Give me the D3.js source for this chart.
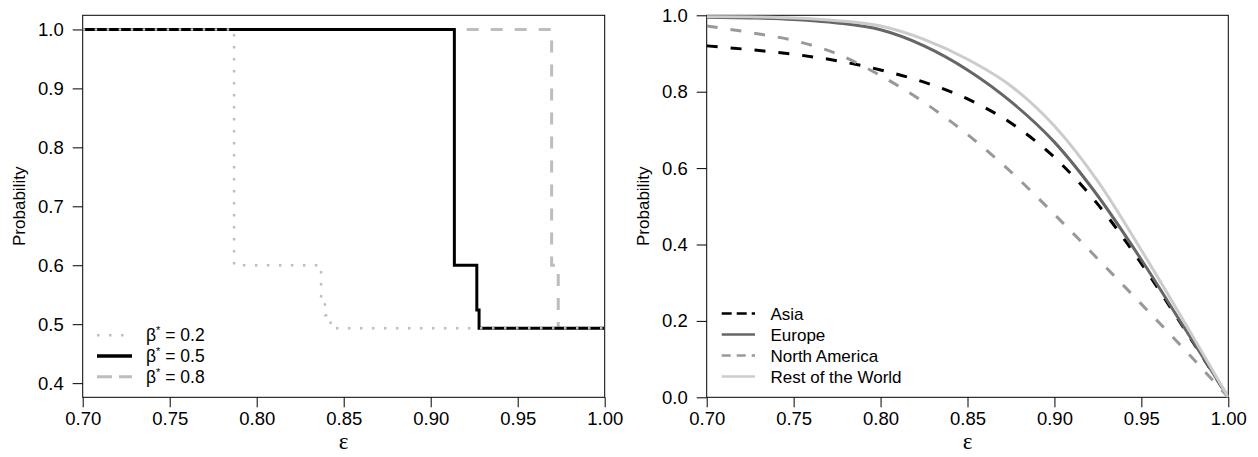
<!DOCTYPE html>
<html>
<head>
<meta charset="utf-8">
<script src="https://cdn.jsdelivr.net/npm/d3@7"></script>
<style>
  html, body { margin: 0; padding: 0; background: #fff; }
  svg { display: block; }
  text { font-family: "Liberation Sans", Arial, sans-serif; fill: #000; }
</style>
</head>
<body>
<script>
// ---------- data ----------
// Left panel: step functions (epsilon where a step starts, probability after it)
const beta02Eps  = [0.70, 0.787, 0.837, 0.8392, 0.8425, 1.00];
const beta02Prob = [1.00, 0.600, 0.540, 0.515, 0.4932, 0.4932];
const beta05Eps  = [0.70, 0.9136, 0.9265, 0.9278, 1.00];
const beta05Prob = [1.00, 0.600, 0.524, 0.4932, 0.4932];
const beta08Eps  = [0.70, 0.9695, 0.9733, 1.00];
const beta08Prob = [1.00, 0.600, 0.4932, 0.4932];
const leftLegendLabels = ["0.2", "0.5", "0.8"];

// Right panel: smooth curves
const epsGrid      = [0.70, 0.725, 0.75, 0.775, 0.80, 0.825, 0.85, 0.875, 0.90, 0.925, 0.95, 0.975, 1.00];
const asia         = [0.920, 0.910, 0.898, 0.881, 0.857, 0.825, 0.781, 0.718, 0.628, 0.505, 0.350, 0.177, 0.0];
const europe       = [0.995, 0.993, 0.989, 0.980, 0.962, 0.920, 0.857, 0.774, 0.668, 0.527, 0.360, 0.180, 0.0];
const northAmerica = [0.972, 0.955, 0.934, 0.899, 0.842, 0.772, 0.688, 0.590, 0.479, 0.362, 0.244, 0.124, 0.0];
const restOfWorld  = [0.997, 0.996, 0.993, 0.986, 0.972, 0.937, 0.885, 0.815, 0.710, 0.565, 0.385, 0.195, 0.0];
const regionNames  = ["Asia", "Europe", "North America", "Rest of the World"];

// Ticks
const xTicks      = [0.70, 0.75, 0.80, 0.85, 0.90, 0.95, 1.00];
const yTicksLeft  = [0.4, 0.5, 0.6, 0.7, 0.8, 0.9, 1.0];
const yTicksRight = [0.0, 0.2, 0.4, 0.6, 0.8, 1.0];

// ---------- layout ----------
const W = 1258, H = 457;
const svg = d3.select("body").append("svg").attr("width", W).attr("height", H);

const plotTop = 15.3, plotBottom = 397.3;
const leftPanel  = { x0: 82.7,  x1: 604.7 };
const rightPanel = { x0: 706.7, x1: 1228.3 };
const tickFont = "18.5px";

function panel(p, yDomain, yTicks, id) {
  const x = d3.scaleLinear().domain([0.70, 1.00]).range([p.x0, p.x1]);
  const y = d3.scaleLinear().domain(yDomain).range([plotBottom, plotTop]);
  const g = svg.append("g");

  svg.append("clipPath").attr("id", id)
    .append("rect").attr("x", p.x0).attr("y", plotTop)
    .attr("width", p.x1 - p.x0).attr("height", plotBottom - plotTop);

  const xAxis = d3.axisBottom(x).tickValues(xTicks).tickFormat(d3.format(".2f"))
    .tickSizeInner(10).tickSizeOuter(0).tickPadding(5);
  const gx = g.append("g").attr("transform", `translate(0,${plotBottom})`).call(xAxis);
  gx.select(".domain").remove();
  gx.selectAll("line").attr("stroke", "#000");
  gx.selectAll("text").style("font-size", tickFont).attr("fill", "#000");

  const yAxis = d3.axisLeft(y).tickValues(yTicks).tickFormat(d3.format(".1f"))
    .tickSizeInner(10).tickSizeOuter(0).tickPadding(9);
  const gy = g.append("g").attr("transform", `translate(${p.x0},0)`).call(yAxis);
  gy.select(".domain").remove();
  gy.selectAll("line").attr("stroke", "#000");
  gy.selectAll("text").style("font-size", tickFont).attr("fill", "#000");

  g.append("rect").attr("x", p.x0).attr("y", plotTop)
    .attr("width", p.x1 - p.x0).attr("height", plotBottom - plotTop)
    .attr("fill", "none").attr("stroke", "#000").attr("stroke-width", 1);

  g.append("text")
    .attr("transform", `translate(${p.x0 - 57.5},${(plotTop + plotBottom) / 2}) rotate(-90)`)
    .attr("text-anchor", "middle").style("font-size", "17px").text("Probability");

  g.append("text")
    .attr("x", (p.x0 + p.x1) / 2).attr("y", 449)
    .attr("text-anchor", "middle")
    .style("font-family", "'Liberation Serif', 'DejaVu Serif', serif")
    .style("font-size", "23px").text("ε");

  const plot = svg.append("g").attr("clip-path", `url(#${id})`);
  return { x, y, plot };
}

// ---------- left panel ----------
const L = panel(leftPanel, [0.376, 1.024], yTicksLeft, "clipL");
const stepLine = d3.line().x(d => L.x(d[0])).y(d => L.y(d[1])).curve(d3.curveStepAfter);

const leftSeries = [
  { eps: beta08Eps, prob: beta08Prob, color: "#bdbdbd", dash: "12 12", w: 3 },
  { eps: beta05Eps, prob: beta05Prob, color: "#000000", dash: null,    w: 3 },
  { eps: beta02Eps, prob: beta02Prob, color: "#bdbdbd", dash: "2.5 9.5", w: 2.5 }
];
leftSeries.forEach(s => {
  const pts = s.eps.map((e, i) => [e, s.prob[i]]);
  L.plot.append("path").attr("d", stepLine(pts))
    .attr("fill", "none").attr("stroke", s.color).attr("stroke-width", s.w)
    .attr("stroke-dasharray", s.dash).attr("stroke-linecap", "butt");
});

// left legend
const leftLegend = [
  { color: "#bdbdbd", dash: "2.5 9.5", w: 2.5 },
  { color: "#000000", dash: null,      w: 3.5 },
  { color: "#bdbdbd", dash: "15 7",    w: 3 }
];
leftLegend.forEach((s, i) => {
  const yy = 335.3 + i * 20.7;
  svg.append("line").attr("x1", 97).attr("x2", 132).attr("y1", yy).attr("y2", yy)
    .attr("stroke", s.color).attr("stroke-width", s.w).attr("stroke-dasharray", s.dash);
  const t = svg.append("text").attr("x", 146).attr("y", yy + 6).style("font-size", "17.5px");
  t.append("tspan").text("β");
  t.append("tspan").attr("dy", -7).style("font-size", "11px").text("*");
  t.append("tspan").attr("dy", 7).text(" = " + leftLegendLabels[i]);
});

// ---------- right panel ----------
const R = panel(rightPanel, [0, 1], yTicksRight, "clipR");
const smooth = d3.line().x(d => R.x(d[0])).y(d => R.y(d[1])).curve(d3.curveMonotoneX);

const rightSeries = [
  { vals: asia,         color: "#000000", dash: "11 13", legDash: "10 5" },
  { vals: europe,       color: "#666666", dash: null,    legDash: null },
  { vals: northAmerica, color: "#999999", dash: "11 13", legDash: "9 6" },
  { vals: restOfWorld,  color: "#cccccc", dash: null,    legDash: null }
];
rightSeries.forEach(s => {
  const pts = epsGrid.map((e, i) => [e, s.vals[i]]);
  R.plot.append("path").attr("d", smooth(pts))
    .attr("fill", "none").attr("stroke", s.color).attr("stroke-width", 3)
    .attr("stroke-dasharray", s.dash);
});

rightSeries.forEach((s, i) => {
  const yy = 313.5 + i * 21;
  svg.append("line").attr("x1", 721.7).attr("x2", 755).attr("y1", yy).attr("y2", yy)
    .attr("stroke", s.color).attr("stroke-width", 2.5).attr("stroke-dasharray", s.legDash);
  svg.append("text").attr("x", 770.5).attr("y", yy + 6).style("font-size", "17px").text(regionNames[i]);
});
</script>
</body>
</html>
